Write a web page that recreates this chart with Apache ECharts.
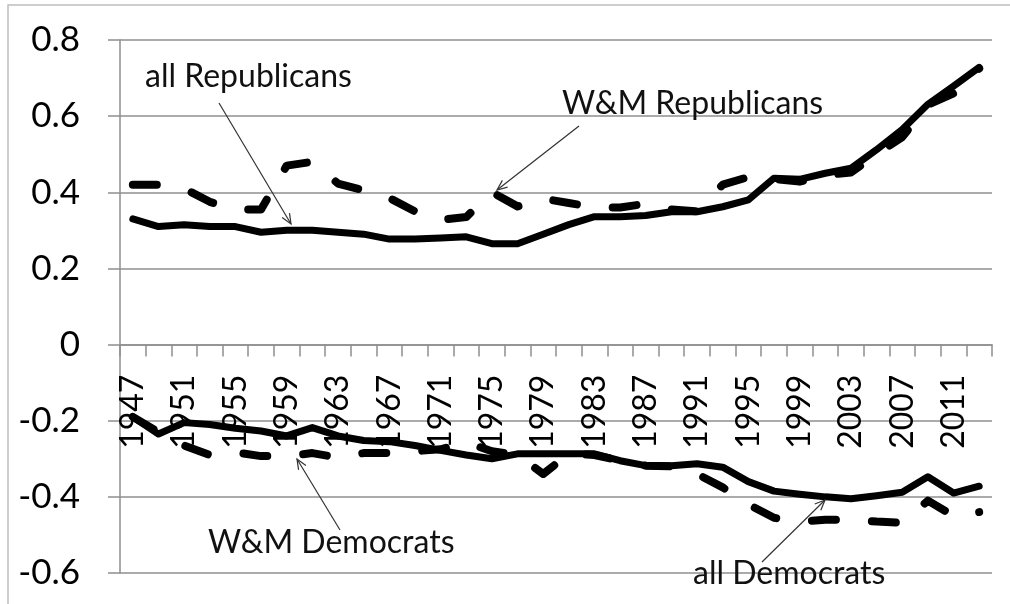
<!DOCTYPE html>
<html>
<head>
<meta charset="utf-8">
<script src="https://cdn.jsdelivr.net/npm/echarts@6.0.0/dist/echarts.min.js"></script>
<style>
html,body{margin:0;padding:0;background:#fff;}
#chart{width:1010px;height:604px;}
</style>
</head>
<body>
<div id="chart"></div>
<script>
const categories = ['1947','1949','1951','1953','1955','1957','1959','1961','1963','1965','1967','1969','1971','1973','1975','1977','1979','1981','1983','1985','1987','1989','1991','1993','1995','1997','1999','2001','2003','2005','2007','2009','2011','2013'];

const allRepublicans = [0.33,0.31,0.315,0.31,0.31,0.295,0.30,0.30,0.295,0.29,0.277,0.277,0.28,0.283,0.265,0.265,0.29,0.315,0.336,0.336,0.339,0.349,0.349,0.362,0.38,0.437,0.434,0.45,0.463,0.512,0.565,0.631,0.679,0.728];
const wmRepublicans = [0.42,0.42,0.41,0.375,0.355,0.355,0.47,0.48,0.423,0.405,0.385,0.35,0.328,0.335,0.40,0.363,0.383,0.372,0.36,0.36,0.37,0.355,0.35,0.42,0.44,0.435,0.428,0.445,0.452,0.50,0.545,0.63,0.66,0.725];
const allDemocrats = [-0.19,-0.235,-0.205,-0.21,-0.22,-0.227,-0.24,-0.218,-0.24,-0.252,-0.255,-0.265,-0.278,-0.29,-0.3,-0.287,-0.287,-0.287,-0.287,-0.305,-0.318,-0.318,-0.313,-0.322,-0.36,-0.385,-0.393,-0.4,-0.405,-0.397,-0.388,-0.347,-0.39,-0.372];
const wmDemocrats = [-0.19,-0.23,-0.265,-0.29,-0.283,-0.293,-0.293,-0.285,-0.297,-0.285,-0.285,-0.28,-0.275,-0.257,-0.28,-0.29,-0.34,-0.287,-0.29,-0.305,-0.318,-0.32,-0.34,-0.375,-0.42,-0.455,-0.465,-0.46,-0.46,-0.465,-0.468,-0.41,-0.45,-0.44];

const yTicks = {min: -0.6, max: 0.8, interval: 0.2};

const FONT = 'Lato';
const GRID = {left: 120, right: 18, top: 40, bottom: 31};
const plotH = 604 - GRID.top - GRID.bottom;
// move the category axis up to the value 0 line
const zeroOffset = -plotH * (0 - yTicks.min) / (yTicks.max - yTicks.min);

const chart = echarts.init(document.getElementById('chart'), null, {renderer: 'canvas'});

function arrow(x1, y1, x2, y2) {
  const ang = Math.atan2(y2 - y1, x2 - x1);
  const L = 11, a = 0.4;
  const h1 = [x2 - L * Math.cos(ang - a), y2 - L * Math.sin(ang - a)];
  const h2 = [x2 - L * Math.cos(ang + a), y2 - L * Math.sin(ang + a)];
  return [
    {type: 'line', shape: {x1, y1, x2, y2}, style: {stroke: '#333', lineWidth: 1.2}, z: 100},
    {type: 'polyline', shape: {points: [h1, [x2, y2], h2]}, style: {stroke: '#333', lineWidth: 1.2, fill: null}, z: 100}
  ];
}
function label(text, x, y) {
  return {type: 'text', x: x, y: y, style: {text: text, font: '32px ' + FONT, fill: '#111', textVerticalAlign: 'middle', textAlign: 'left'}, z: 100};
}

const lineBase = {type: 'line', showSymbol: false, symbol: 'none', smooth: false, animation: false};

chart.setOption({
  animation: false,
  backgroundColor: '#fff',
  grid: Object.assign({containLabel: false, outerBoundsMode: 'none'}, GRID),
  xAxis: {
    type: 'category',
    data: categories,
    boundaryGap: true,
    position: 'bottom',
    offset: zeroOffset,
    axisLine: {onZero: false, lineStyle: {color: '#8f8f8f', width: 1.5}},
    axisTick: {show: true, interval: 0, length: 12, lineStyle: {color: '#8f8f8f', width: 1.5}},
    axisLabel: {interval: 1, rotate: 90, margin: 30, fontFamily: FONT, fontSize: 32, color: '#000', hideOverlap: false},
    splitLine: {show: false}
  },
  yAxis: {
    type: 'value',
    min: yTicks.min, max: yTicks.max, interval: yTicks.interval,
    axisLine: {show: true, onZero: false, lineStyle: {color: '#8f8f8f', width: 1.5}},
    axisTick: {show: true, length: 12, lineStyle: {color: '#8f8f8f', width: 1.5}},
    axisLabel: {margin: 40, fontFamily: FONT, fontSize: 35, color: '#000',
      formatter: v => String(parseFloat(v.toFixed(1)))},
    splitLine: {show: true, lineStyle: {color: '#8f8f8f', width: 1.5}}
  },
  series: [
    Object.assign({}, lineBase, {name: 'W&M Republicans', data: wmRepublicans, lineStyle: {color: '#000', width: 8, type: [24, 36], cap: 'round', join: 'round'}, z: 3}),
    Object.assign({}, lineBase, {name: 'W&M Democrats', data: wmDemocrats, lineStyle: {color: '#000', width: 8, type: [24, 36], cap: 'round', join: 'round'}, z: 3}),
    Object.assign({}, lineBase, {name: 'all Republicans', data: allRepublicans, lineStyle: {color: '#000', width: 7, type: 'solid', cap: 'round', join: 'round'}, z: 4}),
    Object.assign({}, lineBase, {name: 'all Democrats', data: allDemocrats, lineStyle: {color: '#000', width: 7, type: 'solid', cap: 'round', join: 'round'}, z: 4})
  ],
  graphic: [
    {type: 'rect', shape: {x: 8, y: 5, width: 1010, height: 620}, style: {stroke: '#bdbdbd', lineWidth: 1.5, fill: null}, z: 0, silent: true},
    label('all Republicans', 145, 77),
    ...arrow(219, 103, 291, 224),
    label('W&M Republicans', 562, 104),
    ...arrow(579, 126, 497, 190),
    label('W&M Democrats', 208, 543),
    ...arrow(340, 530, 297, 459),
    label('all Democrats', 693, 574),
    ...arrow(762, 562, 825, 500)
  ]
});
</script>
</body>
</html>
